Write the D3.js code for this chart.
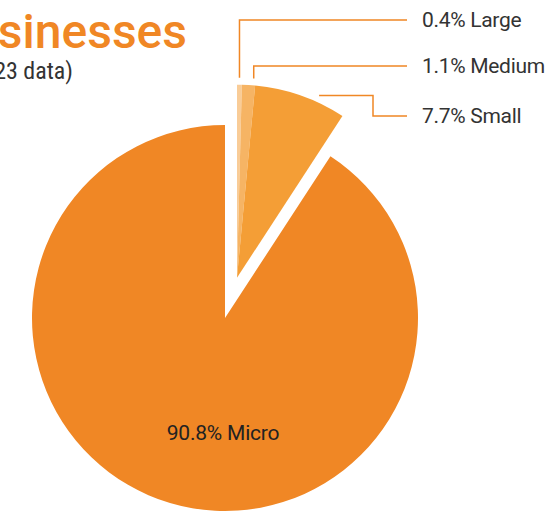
<!DOCTYPE html>
<html>
<head>
<meta charset="utf-8">
<script src="https://cdn.jsdelivr.net/npm/d3@7"></script>
<style>
  body { margin: 0; background: #fff; }
  svg { display: block; }
</style>
</head>
<body>
<svg id="pie" width="551" height="514"></svg>
<script>
// business size shares (2023)
var sizes = ["Large", "Medium", "Small", "Micro"];
var shares = [0.4, 1.1, 7.7, 90.8];
var colors = ["#F9CC97", "#F6B464", "#F49E36", "#F08725"];

var svg = d3.select("#pie"),
    radius = 193,
    cx = 225, cy = 318;

var narrow = "'Liberation Sans Narrow', 'Roboto Condensed', sans-serif";
var font = "Roboto, sans-serif";

// title, cut off on the left like the source
svg.append("text")
    .attr("x", 187).attr("y", 48)
    .attr("text-anchor", "end")
    .attr("font-family", font)
    .attr("font-weight", 500)
    .attr("font-size", "48px")
    .attr("fill", "#F08725")
    .text("Businesses");

svg.append("text")
    .attr("x", 73).attr("y", 79)
    .attr("text-anchor", "end")
    .attr("font-family", narrow)
    .attr("font-size", "24px")
    .attr("fill", "#333")
    .text("(2023 data)");

var data = sizes.map(function(s, i) { return {size: s, value: shares[i], color: colors[i]}; });

var pie = d3.pie()
    .sort(null)
    .value(function(d) { return d.value; });

var arcs = pie(data);

var path = d3.arc()
    .innerRadius(0)
    .outerRadius(radius);

// the three small groups are pulled out together
var groupEnd = arcs[2].endAngle;
var mid = groupEnd / 2;
var pull = 42;
var ex = cx + pull * Math.sin(mid),
    ey = cy - pull * Math.cos(mid);

var g = svg.selectAll(".arc")
    .data(arcs)
    .enter().append("g")
    .attr("class", "arc")
    .attr("transform", function(d) {
      return d.data.size == "Micro" ? "translate(" + cx + "," + cy + ")" : "translate(" + ex + "," + ey + ")";
    });

g.append("path")
    .attr("d", path)
    .attr("fill", function(d) { return d.data.color; });

// leader lines
var labelY = {Large: 20, Medium: 66, Small: 116};
var where = {Large: 0.5, Medium: 0.85, Small: 0.68};
var lineEnd = 407, labelX = 422;

function pt(angle, r) {
  return [ex + r * Math.sin(angle), ey - r * Math.cos(angle)];
}

arcs.slice(0, 3).forEach(function(d) {
  var s = d.data.size;
  var p = pt(d.startAngle + (d.endAngle - d.startAngle) * where[s], 200);
  var pts;
  if (s == "Small") {
    pts = [p, [373, p[1]], [373, labelY[s]], [lineEnd, labelY[s]]];
  } else {
    pts = [p, [p[0], labelY[s]], [lineEnd, labelY[s]]];
  }
  svg.append("path")
      .attr("d", d3.line()(pts))
      .attr("fill", "none")
      .attr("stroke", "#F08725")
      .attr("stroke-width", 1.5);

  svg.append("text")
      .attr("x", labelX).attr("y", labelY[s])
      .attr("dy", "0.35em")
      .attr("font-family", font)
      .attr("font-size", "21px")
      .attr("letter-spacing", "-0.3px")
      .attr("fill", "#333")
      .text(d.data.value + "% " + s);
});

// micro label
svg.append("text")
    .attr("x", cx - 2).attr("y", cy + 115)
    .attr("dy", "0.35em")
    .attr("text-anchor", "middle")
    .attr("font-family", font)
    .attr("font-size", "21px")
    .attr("letter-spacing", "-0.2px")
    .attr("fill", "#222")
    .text(shares[3] + "% Micro");
</script>
</body>
</html>
